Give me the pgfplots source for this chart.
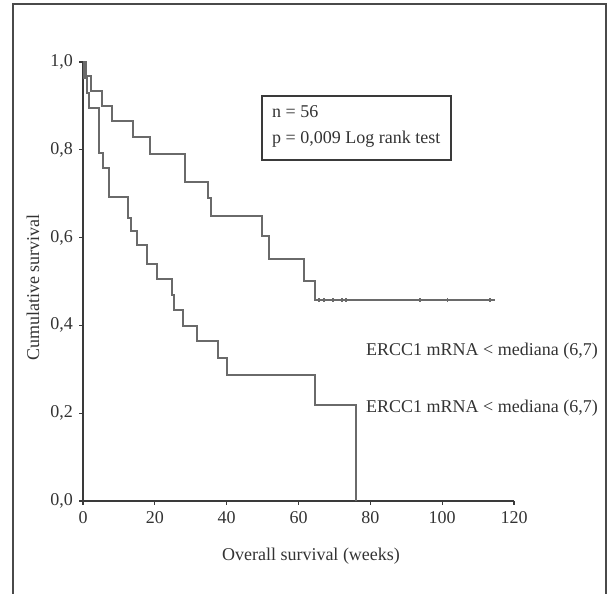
\documentclass[border=0pt]{standalone}
\usepackage{pgfplots}
\pgfplotsset{compat=1.18}
\usepackage{fontspec}
\setmainfont{Liberation Serif}

\definecolor{axisgray}{HTML}{3A3A3A}
\definecolor{curvegray}{HTML}{6A6A6A}
\definecolor{framegray}{HTML}{4A4A4A}
\definecolor{textgray}{HTML}{333333}

% Kaplan-Meier steps (time in weeks, survival)
\pgfplotstableread{
t     s
0     1.000
0.8   0.967
2.3   0.935
5.2   0.900
8.2   0.866
14.0  0.828
18.7  0.790
28.5  0.727
34.8  0.690
35.6  0.649
49.8  0.603
51.8  0.552
61.6  0.500
64.6  0.457
114.8 0.457
}\highgroup

\pgfplotstableread{
t     s
65.6  0.457
67.0  0.457
69.5  0.457
72.0  0.457
73.3  0.457
93.9  0.457
101.5 0.457
113.4 0.457
}\highcensored

\pgfplotstableread{
t     s
0     1.000
0.4   0.964
1.0   0.929
1.8   0.895
4.4   0.793
5.5   0.758
7.2   0.692
12.4  0.645
13.4  0.616
14.9  0.584
17.7  0.539
20.5  0.505
24.7  0.470
25.2  0.436
27.9  0.398
31.7  0.364
37.7  0.326
40.0  0.288
64.6  0.219
75.9  0.000
}\lowgroup

\begin{document}
\fontsize{18bp}{21bp}\selectfont
\begin{tikzpicture}[x=1bp,y=1bp]
\useasboundingbox (0,0) rectangle (608,594);
\draw[framegray, line width=2bp] (12.5,0) -- (12.5,589.5) -- (605.5,589.5) -- (605.5,0);

\begin{axis}[
    at={(83bp,93bp)}, anchor=south west,
    scale only axis, width=431bp, height=439bp,
    xmin=0, xmax=120, ymin=0, ymax=1,
    axis lines=left,
    axis line style={-, axisgray, line width=1.8bp},
    xtick={0,20,...,120},
    ytick={0,0.2,0.4,0.6,0.8,1.0},
    tick align=outside, major tick length=4bp,
    tick style={axisgray, line width=1.2bp},
    yticklabel style={/pgf/number format/.cd, fixed, fixed zerofill, precision=1, use comma},
    /pgf/number format/assume math mode=true,
    ticklabel style={font=\fontsize{18bp}{21bp}\selectfont, text=textgray},
    xlabel={Overall survival (weeks)},
    ylabel={Cumulative survival},
    label style={font=\fontsize{18bp}{21bp}\selectfont, text=textgray},
    xlabel style={at={(axis description cs:0.529,-0.126)}, anchor=center},
    ylabel style={at={(axis description cs:-0.116,0.486)}, anchor=center},
    clip=false,
]
\addplot[const plot, curvegray, line width=2bp] table {\highgroup};
\addplot[only marks, mark=|, mark size=2bp, curvegray, mark options={line width=1.8bp}] table {\highcensored};
\addplot[const plot, curvegray, line width=2bp] table {\lowgroup};
\end{axis}

\draw[axisgray, line width=1.6bp] (262,434) rectangle (451,498);
\node[anchor=base west, inner sep=0pt, text=textgray] at (272,476) {n = 56};
\node[anchor=base west, inner sep=0pt, text=textgray] at (272,450) {p = 0,009 Log rank test};

\node[anchor=base west, inner sep=0pt, text=textgray] at (366,238) {ERCC1 mRNA < mediana (6,7)};
\node[anchor=base west, inner sep=0pt, text=textgray] at (366,181) {ERCC1 mRNA < mediana (6,7)};
\end{tikzpicture}
\end{document}
